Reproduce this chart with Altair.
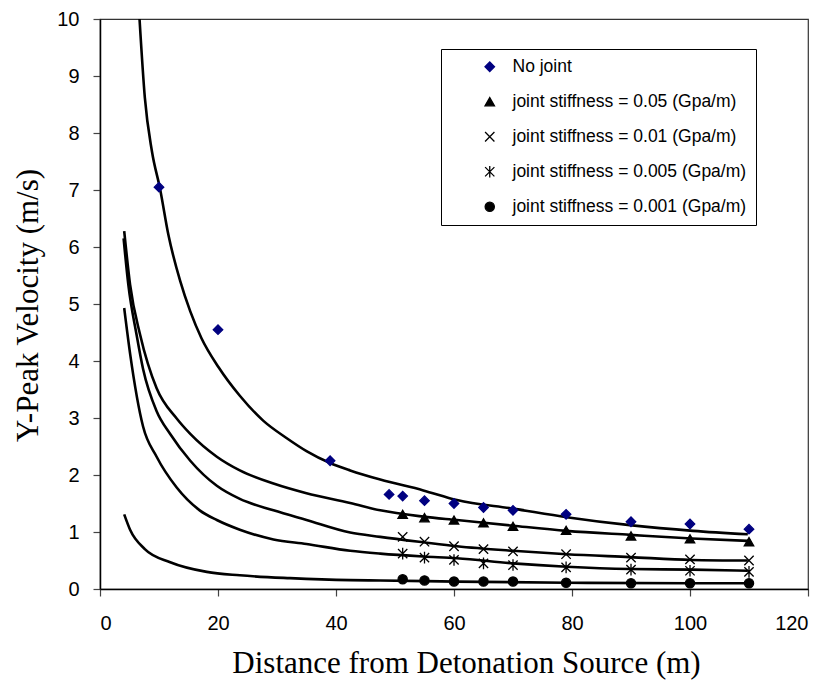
import altair as alt
import pandas as pd

# ---------------- data ----------------
series_names = [
    "No joint",
    "joint stiffness = 0.05 (Gpa/m)",
    "joint stiffness = 0.01 (Gpa/m)",
    "joint stiffness = 0.005 (Gpa/m)",
    "joint stiffness = 0.001 (Gpa/m)",
]

nojoint_x = [10, 20, 39, 49, 51.3, 55, 60, 65, 70, 79, 90, 100, 110]
nojoint_y = [7.05, 4.55, 2.25, 1.66, 1.63, 1.55, 1.50, 1.43, 1.38, 1.31, 1.18, 1.14, 1.05]

joint_x = [51.3, 55, 60, 65, 70, 79, 90, 100, 110]
k005_y = [1.31, 1.25, 1.21, 1.16, 1.10, 1.03, 0.93, 0.88, 0.83]
k001_y = [0.915, 0.83, 0.75, 0.70, 0.66, 0.61, 0.55, 0.52, 0.50]
k0005_y = [0.62, 0.55, 0.51, 0.45, 0.42, 0.38, 0.34, 0.32, 0.30]
k0001_y = [0.17, 0.15, 0.13, 0.13, 0.13, 0.11, 0.10, 0.10, 0.10]

# fitted curves (solid black lines)
c1_x = [6.7, 7.6, 8.8, 10.2, 11.6, 13.6, 15.3, 17.2, 20.1, 23.7, 27.7, 31.6, 35.0, 39.0, 42.4, 47.5, 54.8, 60.5, 70.0, 79.1, 89.8, 100.5, 109.8]
c1_y = [10.0, 8.62, 7.68, 7.01, 6.21, 5.40, 4.87, 4.40, 3.89, 3.39, 2.95, 2.65, 2.42, 2.21, 2.08, 1.92, 1.73, 1.56, 1.41, 1.26, 1.12, 1.02, 0.96]
c2_x = [4.1, 5.1, 6.8, 9.6, 13.0, 15.3, 19.8, 23.7, 29.4, 35.0, 42.4, 47.5, 54.8, 60.5, 70.0, 79.1, 89.8, 100.3, 109.8]
c2_y = [6.28, 5.34, 4.46, 3.52, 2.99, 2.72, 2.32, 2.08, 1.85, 1.68, 1.51, 1.38, 1.27, 1.21, 1.11, 1.02, 0.95, 0.886, 0.845]
c3_x = [4.0, 4.8, 6.2, 7.3, 9.6, 11.9, 15.3, 19.8, 23.7, 29.4, 35.0, 42.4, 47.5, 54.8, 60.5, 70.0, 79.1, 89.8, 100.3, 109.8]
c3_y = [6.15, 5.34, 4.46, 3.86, 3.12, 2.72, 2.25, 1.81, 1.58, 1.38, 1.21, 0.99, 0.915, 0.82, 0.75, 0.67, 0.61, 0.56, 0.51, 0.50]
c4_x = [4.1, 5.1, 7.3, 9.6, 13.0, 16.9, 19.8, 23.7, 29.4, 35.0, 42.4, 47.5, 54.8, 60.5, 70.0, 79.1, 89.8, 100.3, 109.8]
c4_y = [4.93, 4.13, 2.85, 2.32, 1.78, 1.38, 1.21, 1.04, 0.87, 0.79, 0.67, 0.62, 0.57, 0.54, 0.45, 0.39, 0.35, 0.34, 0.32]
c5_x = [4.1, 5.1, 7.6, 11.9, 18.1, 23.7, 32.2, 42.4, 47.5, 60.5, 79.1, 100.0, 109.8]
c5_y = [1.31, 1.04, 0.70, 0.47, 0.30, 0.24, 0.19, 0.155, 0.15, 0.13, 0.11, 0.10, 0.10]

# ---------------- tables ----------------
pts = []
for x, y in zip(nojoint_x, nojoint_y):
    pts.append({"x": x, "y": y, "series": series_names[0]})
for name, ys in zip(series_names[1:], [k005_y, k001_y, k0005_y, k0001_y]):
    for x, y in zip(joint_x, ys):
        pts.append({"x": x, "y": y, "series": name})
pts = pd.DataFrame(pts)

curves = []
for cid, (xs, ys) in enumerate([(c1_x, c1_y), (c2_x, c2_y), (c3_x, c3_y), (c4_x, c4_y), (c5_x, c5_y)]):
    for x, y in zip(xs, ys):
        curves.append({"x": x, "y": y, "curve": cid})
curves = pd.DataFrame(curves)

X_PATH = "M-1,-1L1,1M-1,1L1,-1"
AST_PATH = "M-1,-1L1,1M-1,1L1,-1M0,-1.25L0,1.25"

xscale = alt.Scale(domain=[0, 120], nice=False)
yscale = alt.Scale(domain=[0, 10], nice=False)

xaxis = alt.Axis(
    values=[0, 20, 40, 60, 80, 100, 120], format="d", grid=False, tickSize=7, labelPadding=17,
    title="Distance from Detonation Source (m)", titleX=366, titleY=83,
    titleBaseline="alphabetic", titleAlign="center",
)
yaxis = alt.Axis(
    values=list(range(0, 11)), format="d", grid=False, tickSize=7, labelPadding=14,
    title="Y-Peak Velocity (m/s)", titleX=-72, titleY=286, titleAngle=270,
    titleBaseline="middle", titleAlign="center",
)

lines = alt.Chart(curves).mark_line(
    color="black", strokeWidth=2.6, interpolate="monotone", clip=True
).encode(
    x=alt.X("x:Q", scale=xscale, axis=xaxis),
    y=alt.Y("y:Q", scale=yscale, axis=yaxis),
    detail="curve:N",
)

dom = series_names
points = alt.Chart(pts).mark_point(filled=True, opacity=1, strokeWidth=1.3).encode(
    x=alt.X("x:Q", scale=xscale),
    y=alt.Y("y:Q", scale=yscale),
    shape=alt.Shape("series:N", scale=alt.Scale(domain=dom, range=["diamond", "triangle-up", X_PATH, AST_PATH, "circle"]), legend=alt.Legend(title=None)),
    color=alt.Color("series:N", scale=alt.Scale(domain=dom, range=["#000080", "black", "black", "black", "black"]), legend=alt.Legend(title=None)),
    stroke=alt.Stroke("series:N", scale=alt.Scale(domain=dom, range=["#000080", "black", "black", "black", "black"]), legend=alt.Legend(title=None)),
    size=alt.Size("series:N", scale=alt.Scale(domain=dom, range=[90, 85, 170, 150, 120]), legend=alt.Legend(title=None)),
)

chart = alt.layer(lines, points).properties(
    width=708, height=570,
    autosize=alt.AutoSizeParams(type="none"),
    padding={"left": 92, "top": 11, "right": 18, "bottom": 91},
).configure_view(
    stroke="#333333", strokeWidth=1.2
).configure_axis(
    labelFont="Liberation Sans", labelFontSize=20, labelColor="black",
    titleFont="Liberation Serif", titleFontSize=31, titleFontWeight="normal", titleColor="black",
    domainColor="black", domainWidth=1.5, tickColor="#444444", tickWidth=1.2,
).configure_legend(
    orient="none", legendX=341, legendY=30,
    strokeColor="black", fillColor="white", padding=9,
    labelFont="Liberation Sans", labelFontSize=17.5, labelColor="black",
    symbolOffset=31, labelOffset=14, rowPadding=16, labelLimit=400,
    symbolStrokeWidth=1.3,
)

chart.save("out.html", embed_options={"renderer": "svg", "actions": False})
